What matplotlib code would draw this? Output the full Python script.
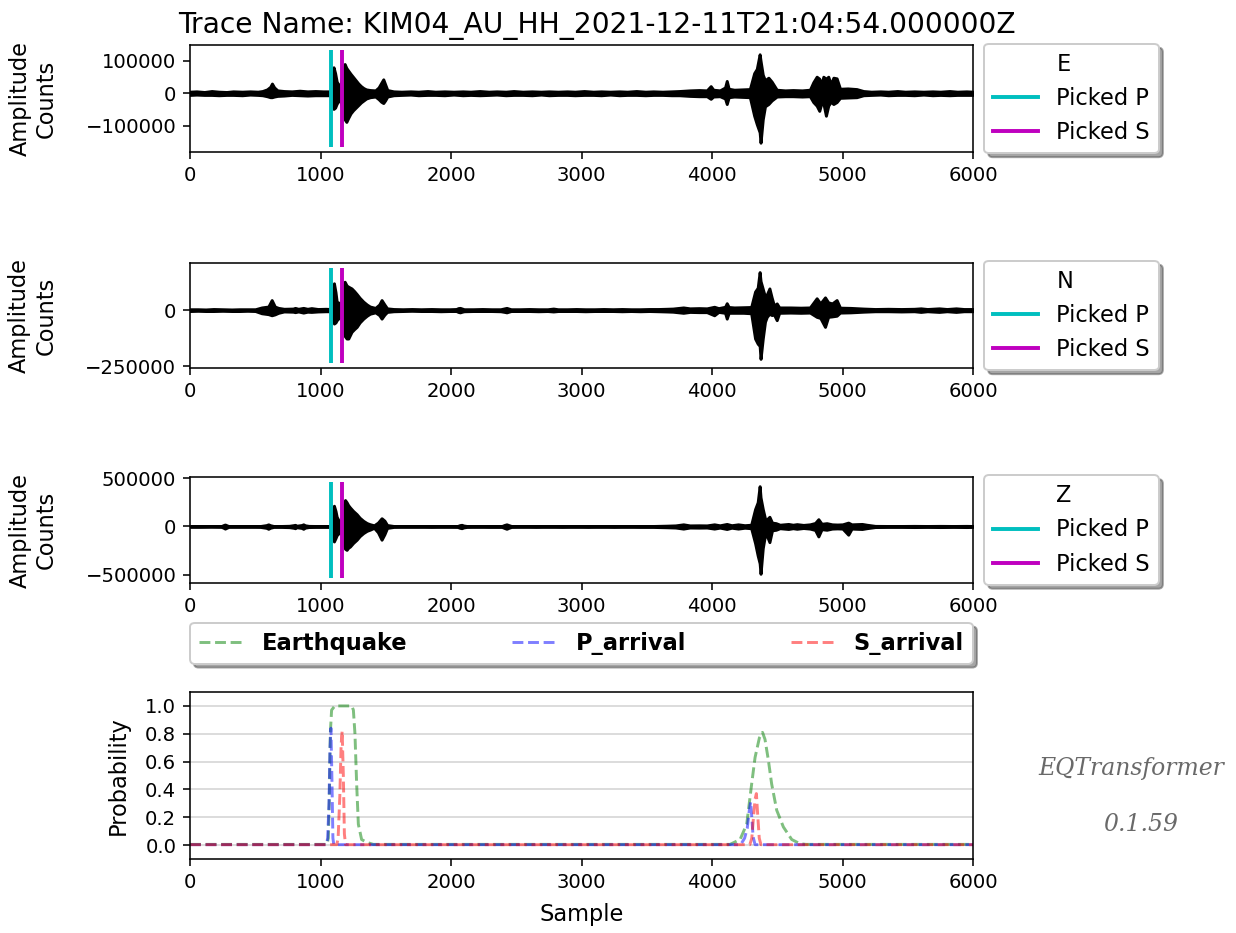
import numpy as np
import matplotlib
matplotlib.use("Agg")
import matplotlib.pyplot as plt
from matplotlib.lines import Line2D

trace_name = "KIM04_AU_HH_2021-12-11T21:04:54.000000Z"
components = ["E", "N", "Z"]
p_pick = 1080
s_pick = 1167
version = "0.1.59"

# Waveform envelopes: (sample, upper, lower) in thousands of counts
e_env = [
    (0, 5, -5), (50, 6, -4), (110, 4, -5), (166, 7, -5), (220, 5, -6), (280, 4, -5),
    (330, 6, -5), (400, 5, -6), (460, 6, -4), (520, 5, -5), (555, 7, -6), (590, 12, -9),
    (615, 20, -12), (628, 30, -12), (645, 18, -10), (670, 9, -8), (720, 7, -7),
    (780, 6, -5), (840, 8, -6), (900, 6, -7), (960, 7, -6), (1020, 6, -6), (1078, 6, -6),
    (1090, 40, -30), (1100, 80, -48), (1112, 62, -44), (1124, 36, -32), (1140, 24, -22),
    (1155, 30, -26), (1172, 70, -60), (1185, 90, -80), (1198, 78, -88), (1212, 70, -76),
    (1230, 60, -62), (1250, 50, -52), (1270, 40, -44), (1290, 30, -36), (1310, 22, -28),
    (1330, 16, -22), (1350, 12, -16), (1380, 10, -12), (1420, 9, -10), (1445, 18, -18),
    (1465, 32, -26), (1481, 43, -30), (1495, 28, -22), (1512, 10, -10), (1560, 6, -6),
    (1620, 5, -5), (1690, 6, -4), (1750, 5, -6), (1820, 7, -5), (1880, 5, -5),
    (1950, 6, -6), (2020, 5, -4), (2090, 6, -6), (2150, 5, -5), (2220, 7, -6),
    (2290, 5, -5), (2350, 6, -4), (2420, 5, -6), (2480, 7, -5), (2550, 5, -5),
    (2620, 6, -6), (2690, 5, -4), (2750, 6, -6), (2820, 5, -5), (2890, 6, -5),
    (2950, 5, -6), (3020, 7, -5), (3090, 5, -5), (3150, 6, -6), (3220, 5, -4),
    (3290, 6, -6), (3350, 5, -5), (3420, 7, -5), (3490, 5, -6), (3550, 6, -5),
    (3620, 5, -5), (3690, 6, -6), (3750, 7, -6), (3830, 9, -8), (3900, 10, -9),
    (3960, 9, -9), (3990, 22, -17), (4010, 11, -10), (4060, 9, -9), (4100, 18, -16),
    (4113, 38, -33), (4128, 14, -12), (4170, 11, -10), (4230, 12, -11), (4290, 13, -12),
    (4323, 62, -69), (4343, 75, -95), (4365, 120, -120), (4372, 100, -152),
    (4389, 57, -80), (4406, 40, -40), (4432, 48, -33), (4457, 36, -22), (4496, 11, -10),
    (4560, 9, -9), (4620, 10, -9), (4690, 9, -10), (4750, 11, -9), (4776, 34, -27),
    (4802, 51, -38), (4822, 45, -54), (4840, 28, -28), (4853, 51, -30), (4873, 45, -69),
    (4891, 51, -38), (4910, 28, -26), (4930, 48, -33), (4955, 46, -27), (4981, 14, -14),
    (5040, 15, -13), (5108, 13, -12), (5160, 7, -6), (5220, 5, -5), (5290, 6, -4),
    (5350, 5, -6), (5420, 7, -5), (5480, 5, -5), (5550, 6, -6), (5620, 5, -4),
    (5690, 6, -6), (5750, 5, -5), (5820, 7, -6), (5880, 5, -5), (5950, 6, -5),
    (5999, 5, -5),
]

n_env = [
    (0, 4, -4), (60, 4, -3), (120, 3, -4), (180, 5, -4), (250, 4, -3), (320, 3, -4),
    (380, 4, -4), (440, 4, -3), (500, 4, -4), (549, 12, -14), (600, 16, -18),
    (626, 45, -23), (650, 16, -19), (677, 10, -12), (720, 6, -6), (790, 7, -7),
    (805, 10, -9), (830, 6, -6), (868, 10, -11), (900, 6, -7), (930, 9, -8), (980, 5, -6),
    (1040, 6, -5), (1078, 5, -5), (1090, 50, -30), (1103, 120, -60), (1115, 80, -55),
    (1124, 38, -45), (1149, 30, -30), (1162, 35, -32), (1175, 110, -90),
    (1185, 127, -115), (1200, 110, -127), (1213, 105, -127), (1238, 97, -97),
    (1258, 85, -85), (1277, 72, -75), (1300, 55, -55), (1328, 38, -38), (1355, 25, -25),
    (1379, 16, -16), (1420, 10, -10), (1450, 25, -22), (1468, 45, -38), (1490, 25, -20),
    (1510, 8, -8), (1560, 5, -5), (1630, 4, -4), (1700, 5, -3), (1770, 4, -4),
    (1850, 5, -4), (1920, 4, -5), (1990, 4, -4), (2040, 5, -4), (2055, 9, -8),
    (2069, 10, -10), (2085, 7, -7), (2100, 4, -5), (2170, 4, -4), (2240, 5, -4),
    (2310, 4, -4), (2380, 4, -5), (2410, 8, -8), (2426, 10, -10), (2442, 7, -7),
    (2460, 4, -4), (2530, 4, -4), (2600, 5, -4), (2670, 4, -5), (2740, 4, -4),
    (2784, 7, -6), (2820, 4, -4), (2890, 4, -4), (2960, 5, -4), (3030, 4, -5),
    (3100, 4, -4), (3170, 5, -4), (3240, 4, -4), (3310, 5, -5), (3380, 4, -4),
    (3450, 4, -5), (3520, 5, -4), (3590, 5, -5), (3650, 6, -6), (3700, 7, -7),
    (3780, 12, -12), (3830, 8, -8), (3900, 9, -9), (3960, 8, -9), (4017, 15, -23),
    (4050, 9, -8), (4100, 15, -12), (4113, 31, -38), (4128, 14, -12), (4170, 12, -12),
    (4240, 13, -12), (4300, 14, -14), (4330, 83, -127), (4350, 100, -150),
    (4365, 170, -160), (4372, 130, -218), (4389, 95, -127), (4406, 60, -52),
    (4420, 70, -30), (4440, 97, -16), (4457, 57, -22), (4475, 20, -20), (4496, 30, -45),
    (4515, 12, -12), (4600, 12, -11), (4680, 11, -12), (4750, 12, -11), (4802, 53, -30),
    (4830, 30, -35), (4866, 57, -75), (4890, 35, -30), (4920, 30, -28), (4955, 45, -25),
    (4981, 11, -11), (5060, 10, -10), (5160, 7, -7), (5250, 5, -5), (5350, 6, -5),
    (5450, 5, -6), (5550, 6, -5), (5600, 8, -8), (5650, 5, -5), (5740, 8, -8),
    (5800, 5, -5), (5870, 8, -8), (5930, 5, -5), (5999, 5, -5),
]

z_env = [
    (0, 3, -3), (80, 3, -3), (160, 4, -3), (240, 4, -4), (256, 14, -13), (268, 20, -22),
    (280, 13, -14), (296, 4, -4), (380, 3, -3), (460, 4, -4), (540, 5, -5), (585, 14, -14),
    (600, 22, -24), (615, 13, -13), (640, 5, -5), (700, 5, -5), (760, 7, -7),
    (795, 14, -14), (805, 17, -18), (818, 8, -8), (855, 15, -15), (868, 22, -24),
    (882, 12, -12), (910, 6, -6), (960, 5, -5), (1020, 5, -5), (1078, 5, -5),
    (1090, 120, -80), (1103, 214, -155), (1115, 160, -120), (1124, 100, -90),
    (1140, 58, -68), (1160, 55, -60), (1175, 200, -180), (1188, 273, -230),
    (1200, 250, -242), (1212, 220, -220), (1226, 196, -207), (1250, 160, -170),
    (1277, 127, -137), (1300, 90, -100), (1328, 58, -68), (1355, 35, -45),
    (1379, 23, -33), (1410, 12, -14), (1440, 40, -60), (1468, 85, -137), (1490, 60, -80),
    (1510, 15, -15), (1560, 5, -5), (1650, 4, -4), (1750, 4, -4), (1850, 5, -5),
    (1950, 4, -4), (2050, 5, -5), (2068, 14, -14), (2082, 17, -18), (2096, 10, -10),
    (2120, 5, -5), (2200, 4, -4), (2300, 5, -5), (2390, 5, -5), (2410, 16, -16),
    (2426, 22, -24), (2442, 14, -14), (2462, 5, -5), (2550, 4, -4), (2650, 5, -5),
    (2750, 4, -4), (2850, 5, -5), (2950, 4, -4), (3050, 5, -5), (3150, 4, -4),
    (3250, 5, -5), (3350, 4, -4), (3450, 5, -5), (3550, 5, -5), (3650, 8, -8),
    (3720, 11, -11), (3780, 22, -22), (3830, 11, -11), (3900, 12, -12), (3960, 11, -11),
    (4017, 22, -22), (4060, 12, -12), (4113, 26, -26), (4150, 13, -13), (4200, 22, -22),
    (4250, 13, -13), (4300, 18, -18), (4330, 179, -172), (4350, 250, -300),
    (4365, 416, -380), (4372, 300, -489), (4389, 180, -224), (4410, 60, -60),
    (4440, 100, -162), (4460, 40, -40), (4490, 34, -34), (4520, 18, -18), (4585, 26, -26),
    (4620, 18, -18), (4650, 24, -24), (4700, 16, -16), (4750, 22, -22), (4790, 36, -36),
    (4815, 75, -103), (4840, 28, -28), (4879, 34, -34), (4920, 22, -22), (4960, 20, -20),
    (5000, 22, -22), (5044, 40, -85), (5070, 22, -22), (5108, 24, -24), (5150, 26, -26),
    (5185, 18, -18), (5250, 6, -6), (5350, 5, -5), (5450, 5, -5), (5550, 6, -6),
    (5650, 5, -5), (5750, 6, -6), (5850, 5, -5), (5950, 6, -6), (5999, 5, -5),
]

# Model output probabilities
eq_x = [0, 1050, 1060, 1068, 1075, 1085, 1110, 1240, 1252, 1264, 1277, 1290, 1315,
        1354, 1405, 4138, 4215, 4266, 4304, 4330, 4363, 4387, 4406, 4432, 4457, 4496,
        4547, 4611, 4674, 4720, 6000]
eq_y = [0.005, 0.005, 0.05, 0.35, 0.8, 0.97, 1.0, 1.0, 0.97, 0.8, 0.44, 0.15, 0.04,
        0.02, 0.005, 0.005, 0.04, 0.15, 0.44, 0.63, 0.77, 0.81, 0.76, 0.61, 0.44, 0.25,
        0.13, 0.04, 0.01, 0.005, 0.005]
p_x = [0, 1045, 1055, 1065, 1073, 1080, 1088, 1095, 1102, 4220, 4250, 4270, 4286,
       4296, 4305, 4315, 4330, 6000]
p_y = [0.003, 0.003, 0.05, 0.3, 0.7, 0.84, 0.45, 0.05, 0.003, 0.003, 0.05, 0.12, 0.25,
       0.31, 0.2, 0.06, 0.003, 0.003]
s_x = [0, 1125, 1135, 1148, 1158, 1166, 1175, 1183, 1192, 4290, 4305, 4318, 4330,
       4340, 4350, 4362, 4375, 6000]
s_y = [0.003, 0.003, 0.05, 0.35, 0.72, 0.82, 0.5, 0.08, 0.003, 0.003, 0.05, 0.2, 0.33,
       0.37, 0.22, 0.05, 0.003, 0.003]

DPI = 141
W_PX, H_PX = 1236, 933
LABEL_SIZE = 11.5
LEGEND_SIZE = 11.5
fig = plt.figure(figsize=(W_PX / DPI, H_PX / DPI), dpi=DPI)


def rect(top_px, bottom_px, left_px=190, right_px=973):
    return [left_px / W_PX, 1 - bottom_px / H_PX,
            (right_px - left_px) / W_PX, (bottom_px - top_px) / H_PX]


trace_rects = [rect(45, 152), rect(263, 368), rect(477, 583)]

for i, (comp, env) in enumerate(zip(components, [e_env, n_env, z_env])):
    ax = fig.add_axes(trace_rects[i])
    xs, up, lo = (np.array(v, dtype=float) for v in zip(*env))
    ax.fill_between(xs, lo * 1000, up * 1000, facecolor='k', edgecolor='k',
                    linewidth=1.5)
    ax.set_xlim(0, 6000)
    if i == 0:
        ax.set_title('Trace Name: ' + trace_name, fontsize=14.4, x=0.52)
    ymin, ymax = ax.get_ylim()
    ax.vlines(p_pick, ymin, ymax, color='c', linewidth=2)
    ax.vlines(s_pick, ymin, ymax, color='m', linewidth=2)
    ax.set_ylabel('Amplitude\nCounts', fontsize=LABEL_SIZE, labelpad=14)
    handles = [Line2D([], [], color='k', lw=0),
               Line2D([], [], color='c', lw=2),
               Line2D([], [], color='m', lw=2)]
    ax.legend(handles, [comp, 'Picked P', 'Picked S'], loc='center left',
              bbox_to_anchor=(1, 0.5), fancybox=True, shadow=True,
              fontsize=LEGEND_SIZE)

ax4 = fig.add_axes(rect(692, 859))
ax4.plot(eq_x, eq_y, '--', color='g', alpha=0.5, linewidth=1.5, label='Earthquake')
ax4.plot(p_x, p_y, '--', color='b', alpha=0.5, linewidth=1.5, label='P_arrival')
ax4.plot(s_x, s_y, '--', color='r', alpha=0.5, linewidth=1.5, label='S_arrival')
ax4.set_ylim(-0.1, 1.1)
ax4.set_xlim(0, 6000)
ax4.set_ylabel('Probability', fontsize=LABEL_SIZE, labelpad=8)
ax4.set_xlabel('Sample', fontsize=LABEL_SIZE, labelpad=6)
ax4.legend(loc='lower center', bbox_to_anchor=(0., 1.17, 1., .102), ncol=3,
           mode='expand', prop={'weight': 'bold', 'size': LEGEND_SIZE},
           borderaxespad=0., fancybox=True, shadow=True)
ax4.set_yticks(np.arange(0, 1.1, step=0.2))
ax4.yaxis.grid(color='lightgray')

font = {'family': 'serif', 'color': 'dimgrey', 'style': 'italic',
        'weight': 'normal', 'size': 12}
ax4.text(6500, 0.5, 'EQTransformer', fontdict=font)
ax4.text(7000, 0.1, version, fontdict=font)

fig.savefig('out.png', dpi=DPI)
